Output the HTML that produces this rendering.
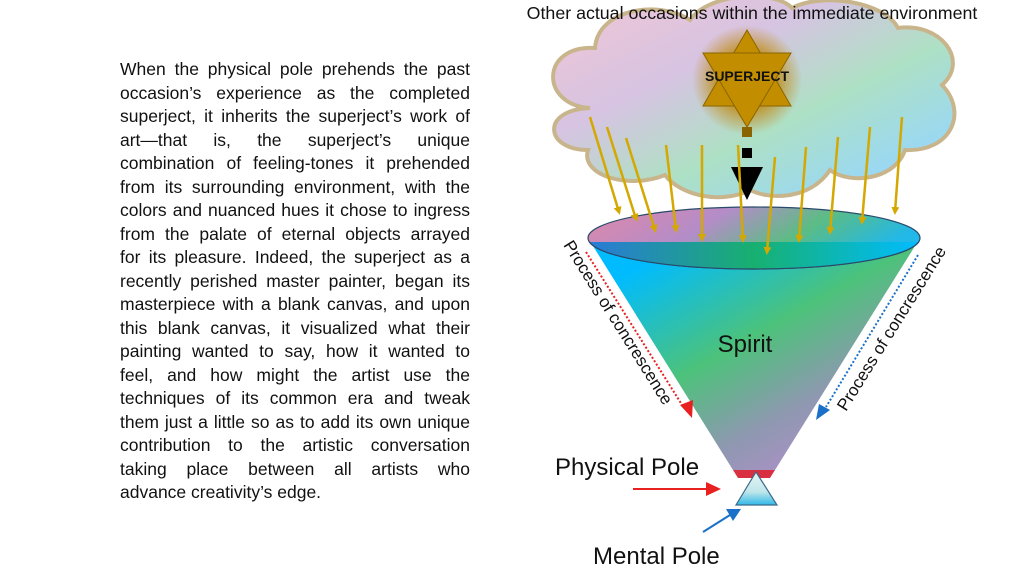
<!DOCTYPE html>
<html><head><meta charset="utf-8"><style>
body{margin:0;background:#fff;width:1023px;height:569px;overflow:hidden;position:relative;font-family:"Liberation Sans",sans-serif}
#p{position:absolute;left:120px;top:58px;width:350px;font-size:17.5px;line-height:23.5px;color:#111}
#p div{text-align:justify;text-align-last:justify;white-space:nowrap;height:23.5px}
#p div.l{text-align-last:left}
svg{position:absolute;left:0;top:0}
</style></head><body>
<div id="p">
<div>When the physical pole prehends the past</div>
<div>occasion’s experience as the completed</div>
<div>superject, it inherits the superject’s work of</div>
<div>art—that is, the superject’s unique</div>
<div>combination of feeling-tones it prehended</div>
<div>from its surrounding environment, with the</div>
<div>colors and nuanced hues it chose to ingress</div>
<div>from the palate of eternal objects arrayed</div>
<div>for its pleasure. Indeed, the superject as a</div>
<div>recently perished master painter, began its</div>
<div>masterpiece with a blank canvas, and upon</div>
<div>this blank canvas, it visualized what their</div>
<div>painting wanted to say, how it wanted to</div>
<div>feel, and how might the artist use the</div>
<div>techniques of its common era and tweak</div>
<div>them just a little so as to add its own unique</div>
<div>contribution to the artistic conversation</div>
<div>taking place between all artists who</div>
<div class="l">advance creativity’s edge.</div>
</div>
<svg width="1023" height="569" viewBox="0 0 1023 569">
<defs>
<linearGradient id="cl" x1="0" y1="0" x2="1" y2="1">
<stop offset="0" stop-color="#f2c6d4"/><stop offset="0.35" stop-color="#d6c4e2"/><stop offset="0.6" stop-color="#aee0c4"/><stop offset="0.85" stop-color="#9ad8f4"/></linearGradient>
<linearGradient id="cone" x1="0" y1="0" x2="0.8" y2="1">
<stop offset="0.15" stop-color="#00bcff"/><stop offset="0.5" stop-color="#4cc27a"/><stop offset="0.75" stop-color="#8e98b0"/><stop offset="1" stop-color="#b88ed0"/></linearGradient>
<linearGradient id="top" x1="0" y1="0" x2="1" y2="0.3">
<stop offset="0" stop-color="#e088a8"/><stop offset="0.4" stop-color="#b48cc8"/><stop offset="0.7" stop-color="#5cbc84"/><stop offset="1" stop-color="#22b8e8"/></linearGradient>
<linearGradient id="bot" x1="0" y1="0" x2="1" y2="0">
<stop offset="0" stop-color="#2a7ad8"/><stop offset="0.5" stop-color="#18b070"/><stop offset="1" stop-color="#00bcff"/></linearGradient>
<linearGradient id="tri" x1="0" y1="0" x2="0" y2="1"><stop offset="0" stop-color="#e8f6f6"/><stop offset="0.6" stop-color="#bfe6ea"/><stop offset="1" stop-color="#30b8e8"/></linearGradient>
<radialGradient id="glow"><stop offset="0.5" stop-color="#c08a10" stop-opacity="0.9"/><stop offset="1" stop-color="#c08a10" stop-opacity="0"/></radialGradient>
<clipPath id="lo"><rect x="580" y="242" width="350" height="40"/></clipPath>
<marker id="ya" markerWidth="8" markerHeight="8" refX="5" refY="4" orient="auto" markerUnits="userSpaceOnUse"><path d="M0,0 L8,4 L0,8z" fill="#d4a800"/></marker>
</defs>
<g fill="url(#cl)" stroke="#c9b58c" stroke-width="4">
<path d="M590,108 C540,105 540,45 595,48 C598,8 660,0 690,20 C710,-8 775,-10 792,8 C822,-8 885,2 898,28 C940,22 970,60 942,85 C968,112 952,152 905,150 C895,180 850,185 830,170 C810,200 770,200 750,190 C720,205 680,195 665,175 C628,190 580,175 588,150 C545,150 540,110 590,108z"/>
</g>
<ellipse cx="747" cy="80" rx="55" ry="55" fill="url(#glow)"/>
<g fill="#c28e00" stroke="#8a6400" stroke-width="1">
<polygon points="747,30 791,106 703,106"/><polygon points="703,53 791,53 747,127"/></g>
<text x="747" y="81" text-anchor="middle" font-size="14" font-weight="bold" fill="#111">SUPERJECT</text>
<rect x="742" y="127" width="10" height="10" fill="#8a6400"/>
<rect x="742" y="148" width="10" height="10" fill="#000"/>
<polygon points="731,167 763,167 747,200" fill="#000"/>
<text x="752" y="19" text-anchor="middle" font-size="17.8" fill="#111">Other actual occasions within the immediate environment</text>
<polygon points="588,238 920,238 775,470 733,470" fill="url(#cone)"/>
<ellipse cx="754" cy="238" rx="166" ry="31" fill="url(#top)" stroke="#2a4a6a" stroke-width="1.2"/>
<ellipse cx="754" cy="238" rx="166" ry="31" fill="url(#bot)" clip-path="url(#lo)" stroke="#2a4a6a" stroke-width="1.2"/>
<polygon points="733,470 775,470 770,478 738,478" fill="#d83040"/>
<polygon points="756,472 777,505 736,505" fill="url(#tri)" stroke="#3a6a8a" stroke-width="1.2"/>
<g stroke="#d4a800" stroke-width="2.5" marker-end="url(#ya)">
<line x1="590" y1="117" x2="619" y2="212"/><line x1="607" y1="127" x2="636" y2="219"/><line x1="626" y1="138" x2="655" y2="230"/>
<line x1="666" y1="145" x2="676" y2="230"/><line x1="702" y1="145" x2="702" y2="239"/><line x1="738" y1="145" x2="743" y2="240"/>
<line x1="775" y1="157" x2="767" y2="252"/><line x1="806" y1="147" x2="799" y2="240"/><line x1="838" y1="137" x2="830" y2="232"/>
<line x1="870" y1="127" x2="862" y2="222"/><line x1="902" y1="117" x2="895" y2="212"/></g>
<line x1="586" y1="252" x2="684" y2="408" stroke="#e82020" stroke-width="2" stroke-dasharray="2,2"/>
<polygon points="680,405 692,418 693,400" fill="#e82020"/>
<line x1="918" y1="255" x2="826" y2="407" stroke="#1a70c8" stroke-width="2" stroke-dasharray="2,2"/>
<polygon points="819,404 816,420 830,410" fill="#1a70c8"/>
<text font-size="17" fill="#111" transform="translate(563,245) rotate(58)">Process of concrescence</text>
<text font-size="17" fill="#111" transform="translate(846,412) rotate(-58)">Process of concrescence</text>
<text x="745" y="352" text-anchor="middle" font-size="24" fill="#111">Spirit</text>
<text x="555" y="475" font-size="24" fill="#111">Physical Pole</text>
<text x="593" y="564" font-size="24" fill="#111">Mental Pole</text>
<line x1="633" y1="489" x2="708" y2="489" stroke="#e82020" stroke-width="2"/>
<polygon points="706,482 721,489 706,496" fill="#e82020"/>
<line x1="703" y1="532" x2="730" y2="515" stroke="#1a70c8" stroke-width="2"/>
<polygon points="726,509 741,509 733,521" fill="#1a70c8"/>
</svg>
</body></html>
